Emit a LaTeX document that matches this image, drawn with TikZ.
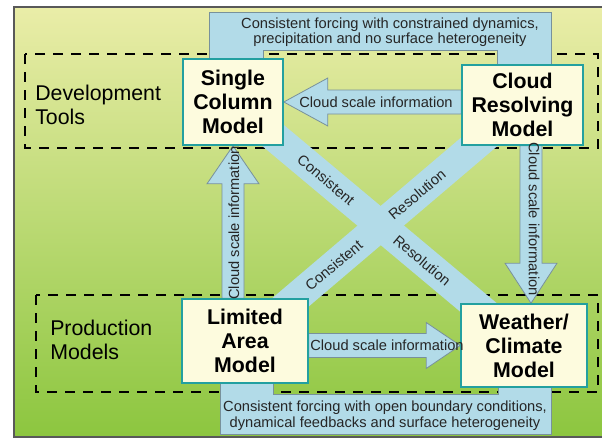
\documentclass[tikz,border=0pt]{standalone}
\usepackage{fontspec}
\setmainfont{Liberation Sans}
\usetikzlibrary{calc}
\definecolor{bandblue}{RGB}{178,219,232}
\definecolor{bandline}{RGB}{120,145,155}
\definecolor{boxfill}{RGB}{253,251,222}
\definecolor{boxline}{RGB}{35,160,160}
\definecolor{bgtop}{RGB}{234,237,168}
\definecolor{bgmid}{RGB}{198,223,108}
\definecolor{bgbot}{RGB}{140,198,63}
\pgfdeclarelayer{bg}
\pgfdeclarelayer{mid}
\pgfsetlayers{bg,mid,main}

\begin{document}
\begin{tikzpicture}[x=0.75pt,y=0.75pt,yscale=-1,xscale=1,
  model/.style={draw=boxline,line width=1.2pt,fill=boxfill,align=center,inner sep=0pt,font=\fontsize{16}{18}\selectfont\bfseries},
  group/.style={font=\fontsize{16}{18}\selectfont,align=left,anchor=west,inner sep=0pt},
  grouped/.style={draw=black,line width=1.9pt,dash pattern=on 7.5pt off 6pt},
  band/.style={fill=bandblue,draw=bandline,line width=0.6pt},
  cross/.style={draw=bandblue,line width=22.5pt},
  info/.style={font=\fontsize{11}{11.25}\selectfont,inner sep=0pt,text=black!85}]
\useasboundingbox (0,0) rectangle (602,440);

% Models
\node[model, minimum width=75pt, minimum height=64.5pt] (scm) at (233,102) {Single\\Column\\Model};
\node[model, minimum width=90.75pt, minimum height=60pt] (crm) at (522.5,105) {Cloud\\Resolving\\Model};
\node[model, minimum width=94.5pt, minimum height=63pt] (lam) at (245,341) {Limited\\Area\\Model};
\node[model, minimum width=94.5pt, minimum height=62.25pt] (wcm) at (524,345.5) {Weather/\\Climate\\Model};

% Group labels
\node[group] (devlbl) at (35,105) {Development\\Tools};
\node[group] (prodlbl) at (50,340) {Production\\Models};

\begin{pgfonlayer}{bg}
%Background
\shade[top color=bgtop, middle color=bgmid, bottom color=bgbot] (14,7) rectangle (602,437);
\draw[draw=black!65, line width=1.2pt] (602,7) -- (14,7) -- (14,437) -- (602,437);
%Dashed groups
\draw[grouped] (25,54) rectangle (598,148);
\draw[grouped] (36,295) rectangle (598,392);
\end{pgfonlayer}

\begin{pgfonlayer}{mid}
%Crossing bands
\draw[cross] (scm.center) -- node[info, rotate=-40, pos=0.32] (cons1) {Consistent} node[info, rotate=-40, pos=0.65] (res1) {Resolution} (wcm.center);
\draw[cross] (lam.center) -- node[info, rotate=40, pos=0.32] (cons2) {Consistent} node[info, rotate=40, pos=0.62] (res2) {Resolution} (crm.center);
%Top band
\draw[band] ($(scm.north)+(-24,0)$) -- ($(scm.north)+(-24,-46)$) -- ($(crm.north)+(28.5,-52)$) -- ($(crm.north)+(28.5,0)$) -- ($(crm.north)+(-25.5,0)$) -- ($(crm.north)+(-25.5,-14)$) -- ($(scm.north)+(30,-8)$) -- ($(scm.north)+(30,0)$) -- cycle;
%Bottom band
\draw[band] ($(lam.south)+(-25,0)$) -- ($(lam.south)+(-25,51)$) -- ($(wcm.south)+(27,47)$) -- ($(wcm.south)+(27,0)$) -- ($(wcm.south)+(-26,0)$) -- ($(wcm.south)+(-26,7)$) -- ($(lam.south)+(28,11)$) -- ($(lam.south)+(28,0)$) -- cycle;
%Arrow CRM to SCM
\draw[band] ($(crm.west |- scm.east)+(0,-12)$) -- ($(scm.east)+(44,-12)$) -- ($(scm.east)+(44,-24)$) -- (scm.east) -- ($(scm.east)+(44,24)$) -- ($(scm.east)+(44,12)$) -- ($(crm.west |- scm.east)+(0,12)$) -- cycle;
%Arrow LAM to SCM
\draw[band] ($(scm.south |- lam.north)+(-11,0)$) -- ($(scm.south)+(-11,38)$) -- ($(scm.south)+(-26,38)$) -- (scm.south) -- ($(scm.south)+(26,38)$) -- ($(scm.south)+(11,38)$) -- ($(scm.south |- lam.north)+(11,0)$) -- cycle;
%Arrow CRM to WCM
\coordinate (dtip) at ($(wcm.north)+(7,0)$);
\draw[band] ($(dtip |- crm.south)+(-11,0)$) -- ($(dtip)+(-11,-40)$) -- ($(dtip)+(-26,-40)$) -- (dtip) -- ($(dtip)+(26,-40)$) -- ($(dtip)+(11,-40)$) -- ($(dtip |- crm.south)+(11,0)$) -- cycle;
%Arrow LAM to WCM
\draw[band] ($(lam.east |- wcm.west)+(0,-12)$) -- ($(wcm.west)+(-34,-12)$) -- ($(wcm.west)+(-34,-23)$) -- (wcm.west) -- ($(wcm.west)+(-34,23)$) -- ($(wcm.west)+(-34,12)$) -- ($(lam.east |- wcm.west)+(0,12)$) -- cycle;
\end{pgfonlayer}

% Arrow texts
\node[info] (info1) at (376,102) {Cloud scale information};
\node[info, rotate=90] (info2) at (234,223) {Cloud scale information};
\node[info, rotate=-90] (info3) at (534,219) {Cloud scale information};
\node[info] (info4) at (387,345) {Cloud scale information};
% Band texts
\node[info, align=center] (forcetop) at (390,32.5) {Consistent forcing with constrained dynamics,\\precipitation and no surface heterogeneity};
\node[info, align=center, font=\fontsize{11}{12}\selectfont] (forcebot) at (385,416) {Consistent forcing with open boundary conditions,\\dynamical feedbacks and surface heterogeneity};

\end{tikzpicture}
\end{document}
